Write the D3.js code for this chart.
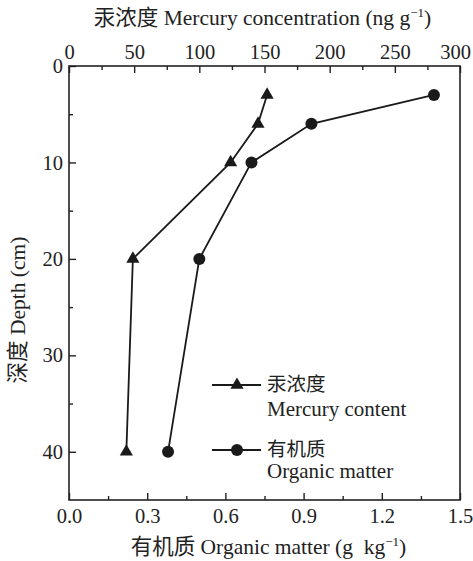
<!DOCTYPE html>
<html>
<head>
<meta charset="utf-8">
<script src="https://cdn.jsdelivr.net/npm/d3@7"></script>
<style>
  body { margin: 0; background: #fff; }
  text { font-family: "Liberation Serif", "Noto Sans CJK SC", serif; fill: #222; }
</style>
</head>
<body>
<script>
// 深度 (cm)
var depth = [3, 6, 10, 20, 40];
// 汞浓度 (ng g-1)
var mercury = [152, 145, 124, 49, 44];
// 有机质 (g kg-1)
var organic = [1.40, 0.93, 0.70, 0.50, 0.38];

var topTicks = [0, 50, 100, 150, 200, 250, 300];
var bottomTicks = [0.0, 0.3, 0.6, 0.9, 1.2, 1.5];
var depthTicks = [0, 10, 20, 30, 40];

var W = 473, H = 561;
var margin = { top: 66, right: 13, bottom: 61, left: 69 };
var width = W - margin.left - margin.right;
var height = H - margin.top - margin.bottom;

var svg = d3.select("body").append("svg")
    .attr("width", W)
    .attr("height", H);

var g = svg.append("g")
    .attr("transform", "translate(" + margin.left + "," + margin.top + ")");

var xHg = d3.scaleLinear().domain([0, 300]).range([0, width]);
var xOm = d3.scaleLinear().domain([0, 1.5]).range([0, width]);
var y = d3.scaleLinear().domain([0, 45]).range([0, height]);

// 軸 (目盛りは内向き)
function styleAxis(sel) {
    sel.select(".domain").remove();
    sel.selectAll("line").attr("stroke", "#222").attr("stroke-width", 1.4);
    sel.selectAll("text").style("font-size", "20.5px");
}

// 副目盛り
g.append("g")
    .call(d3.axisTop(xHg).tickValues(d3.range(25, 300, 50)).tickSize(-4).tickFormat(""))
    .call(styleAxis);
g.append("g")
    .attr("transform", "translate(0," + height + ")")
    .call(d3.axisBottom(xOm).tickValues(d3.range(0.15, 1.5, 0.3)).tickSize(-4).tickFormat(""))
    .call(styleAxis);
g.append("g")
    .call(d3.axisLeft(y).tickValues(d3.range(5, 45, 10)).tickSize(-4).tickFormat(""))
    .call(styleAxis);

// 主目盛り
var topAxis = g.append("g")
    .call(d3.axisTop(xHg).tickValues(topTicks).tickSize(-7).tickPadding(7).tickFormat(d3.format("d")))
    .call(styleAxis);
// 右端の300は枠に収まるよう少し左へ
topAxis.selectAll("text").filter(function(d) { return d === 300; }).attr("dx", -5);

g.append("g")
    .attr("transform", "translate(0," + height + ")")
    .call(d3.axisBottom(xOm).tickValues(bottomTicks).tickSize(-7).tickPadding(8).tickFormat(d3.format(".1f")))
    .call(styleAxis);
g.append("g")
    .call(d3.axisLeft(y).tickValues(depthTicks).tickSize(-7).tickPadding(6).tickFormat(d3.format("d")))
    .call(styleAxis);

// 枠
g.append("rect")
    .attr("width", width)
    .attr("height", height)
    .attr("fill", "none")
    .attr("stroke", "#222")
    .attr("stroke-width", 1.6);

var hgData = depth.map(function(d, i) { return { d: d, v: mercury[i] }; });
var omData = depth.map(function(d, i) { return { d: d, v: organic[i] }; });

var lineHg = d3.line().x(function(p) { return xHg(p.v); }).y(function(p) { return y(p.d); });
var lineOm = d3.line().x(function(p) { return xOm(p.v); }).y(function(p) { return y(p.d); });

g.append("path").datum(hgData).attr("d", lineHg)
    .attr("fill", "none").attr("stroke", "#1a1a1a").attr("stroke-width", 1.8);
g.append("path").datum(omData).attr("d", lineOm)
    .attr("fill", "none").attr("stroke", "#1a1a1a").attr("stroke-width", 1.8);

var tri = d3.symbol().type(d3.symbolTriangle).size(75);

g.selectAll(".hg").data(hgData).enter().append("path")
    .attr("class", "hg")
    .attr("d", tri)
    .attr("transform", function(p) { return "translate(" + xHg(p.v) + "," + y(p.d) + ")"; })
    .attr("fill", "#1a1a1a");

g.selectAll(".om").data(omData).enter().append("circle")
    .attr("class", "om")
    .attr("cx", function(p) { return xOm(p.v); })
    .attr("cy", function(p) { return y(p.d); })
    .attr("r", 6)
    .attr("fill", "#1a1a1a");

// 凡例
var legend = [
    { cn: "汞浓度", en: "Mercury content", sym: "tri", y: 385, enY: 416 },
    { cn: "有机质", en: "Organic matter", sym: "circle", y: 450, enY: 478 }
];
legend.forEach(function(l) {
    svg.append("line")
        .attr("x1", 212).attr("x2", 261)
        .attr("y1", l.y).attr("y2", l.y)
        .attr("stroke", "#1a1a1a").attr("stroke-width", 1.8);
    if (l.sym === "tri") {
        svg.append("path").attr("d", tri)
            .attr("transform", "translate(237," + l.y + ")")
            .attr("fill", "#1a1a1a");
    } else {
        svg.append("circle").attr("cx", 237).attr("cy", l.y).attr("r", 6).attr("fill", "#1a1a1a");
    }
    svg.append("text")
        .attr("x", 267).attr("y", l.y + 6)
        .style("font-size", "19.5px")
        .text(l.cn);
    svg.append("text")
        .attr("x", 267).attr("y", l.enY)
        .style("font-size", "21px")
        .text(l.en);
});

// 軸タイトル
var topTitle = svg.append("text")
    .attr("x", margin.left + width / 2 - 2)
    .attr("y", 25)
    .attr("text-anchor", "middle")
    .style("font-size", "21.5px");
topTitle.append("tspan").text("汞浓度 Mercury concentration (ng g");
topTitle.append("tspan").attr("dy", -8).style("font-size", "13px").text("−1");
topTitle.append("tspan").attr("dy", 8).text(")");

var botTitle = svg.append("text")
    .attr("x", margin.left + width / 2 + 4)
    .attr("y", 554)
    .attr("text-anchor", "middle")
    .style("font-size", "21.5px");
botTitle.append("tspan").text("有机质 Organic matter (g\u00a0 kg");
botTitle.append("tspan").attr("dy", -8).style("font-size", "13px").text("−1");
botTitle.append("tspan").attr("dy", 8).text(")");

svg.append("text")
    .attr("transform", "translate(25,310) rotate(-90)")
    .attr("text-anchor", "middle")
    .style("font-size", "21.5px")
    .text("深度 Depth (cm)");
</script>
</body>
</html>
